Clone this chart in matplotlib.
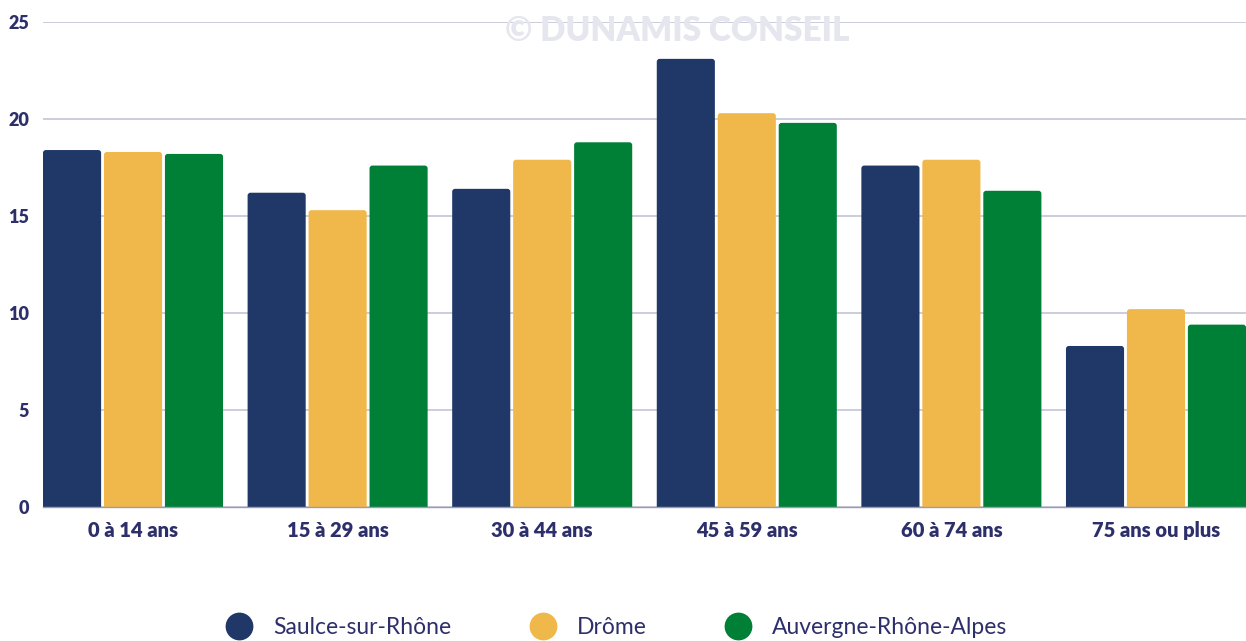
import matplotlib
matplotlib.use('Agg')
from matplotlib import pyplot as plt
from matplotlib.patches import FancyBboxPatch
from matplotlib.lines import Line2D
import numpy as np

categories = ['0 à 14 ans', '15 à 29 ans', '30 à 44 ans', '45 à 59 ans',
              '60 à 74 ans', '75 ans ou plus']
saulce = [18.4, 16.2, 16.4, 23.1, 17.6, 8.3]
drome = [18.3, 15.3, 17.9, 20.3, 17.9, 10.2]
ara = [18.2, 17.6, 18.8, 19.8, 16.3, 9.4]
series_names = ['Saulce-sur-Rhône', 'Drôme', 'Auvergne-Rhône-Alpes']
colors = ['#1f3868', '#f0b84b', '#008037']

navy = '#2d2f6b'

fig = plt.figure(figsize=(12.46, 6.41), dpi=100)
ax = fig.add_axes([43 / 1246, 1 - 507 / 641, 1 - 43 / 1246, (507 - 22) / 641])

x = np.arange(len(categories))
width = 0.284
step = 0.298
for i, (vals, c) in enumerate(zip([saulce, drome, ara], colors)):
    bars = ax.bar(x + (i - 1) * step, vals, width=width, color=c)
    # swap plain rectangles for slightly rounded ones
    for b in bars:
        bx, bw, bh = b.get_x(), b.get_width(), b.get_height()
        b.set_visible(False)
        p = FancyBboxPatch((bx, -0.5), bw, bh + 0.5,
                           boxstyle='round,pad=0,rounding_size=0.014',
                           mutation_aspect=10.5, facecolor=c,
                           edgecolor='none', zorder=3)
        ax.add_patch(p)

ax.set_xlim(-0.44, 5.44)
ax.set_ylim(0, 25)
ax.set_yticks([0, 5, 10, 15, 20, 25])
ax.set_xticks(x)
ax.set_xticklabels(categories)

ax.grid(axis='y', color='#c8c9da', linewidth=1.3, zorder=0)
ax.set_axisbelow(True)
for s in ['top', 'right', 'left']:
    ax.spines[s].set_visible(False)
ax.spines['bottom'].set_color('#9a9bb0')
ax.spines['bottom'].set_linewidth(1.0)
ax.spines['bottom'].set_zorder(4)

ax.tick_params(axis='both', length=0)
ax.tick_params(axis='y', pad=10)
ax.tick_params(axis='x', pad=10)
for lab in ax.get_yticklabels():
    lab.set_fontfamily('Lato')
    lab.set_fontweight('heavy')
    lab.set_fontsize(13)
    lab.set_color(navy)
for lab in ax.get_xticklabels():
    lab.set_fontfamily('Lato')
    lab.set_fontweight('heavy')
    lab.set_fontsize(14.5)
    lab.set_color(navy)

fig.text(677 / 1246, 1 - 31 / 641, '© DUNAMIS CONSEIL', ha='center', va='center',
         fontsize=24, fontweight='heavy', family='Lato', color='#e6e6ee', zorder=0)

handles = [Line2D([], [], marker='o', linestyle='none', markersize=19,
                  markerfacecolor=c, markeredgecolor=c) for c in colors]
leg = fig.legend(handles, series_names, loc='center', ncol=3,
                 bbox_to_anchor=(612 / 1246, 1 - 628 / 641), frameon=False,
                 prop={'family': 'Lato', 'size': 16.5}, handletextpad=0.48,
                 handlelength=2.0, columnspacing=3.0)
for t in leg.get_texts():
    t.set_color(navy)

fig.savefig('out.png', dpi=100)
